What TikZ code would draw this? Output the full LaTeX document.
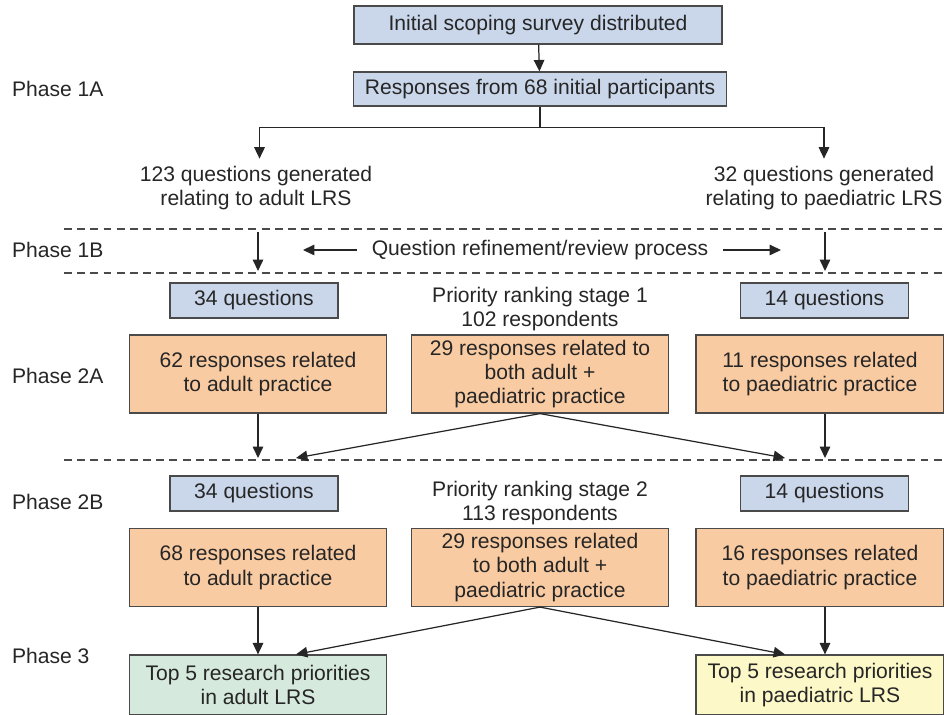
\documentclass[tikz,border=0pt]{standalone}
\usepackage{fontspec}
\setmainfont{Liberation Sans}
\usetikzlibrary{arrows.meta}
\definecolor{qblue}{HTML}{CAD6EA}
\definecolor{rorange}{HTML}{F9CBA2}
\definecolor{tgreen}{HTML}{D6E9DD}
\definecolor{tyellow}{HTML}{FCF8C8}
\definecolor{edge}{HTML}{4A4A4A}
\definecolor{ink}{HTML}{262626}
\tikzset{
  box/.style={draw=edge, line width=0.7pt, align=center, inner sep=1pt, text=ink},
  qbox/.style={box, fill=qblue},
  rbox/.style={box, fill=rorange, minimum height=1.56cm},
  lbl/.style={align=center, text=ink, inner sep=1pt},
  arr/.style={-{Triangle[width=6pt,length=6.5pt]}, line width=0.7pt, draw=ink},
  sep/.style={draw=edge, line width=0.6pt, dash pattern=on 4.5pt off 3pt}
}
\begin{document}
\begin{tikzpicture}[x=0.02cm, y=-0.02cm,
    every node/.append style={font=\fontsize{12}{13.8}\selectfont}]
    \useasboundingbox (0,0) rectangle (944,715);
    % phase labels
    \node[lbl, anchor=west] (ph1a) at (10,89) {Phase 1A};
    \node[lbl, anchor=west] (ph1b) at (10,250) {Phase 1B};
    \node[lbl, anchor=west] (ph2a) at (10,376) {Phase 2A};
    \node[lbl, anchor=west] (ph2b) at (10,502) {Phase 2B};
    \node[lbl, anchor=west] (ph3) at (10,656) {Phase 3};
    % separators
    \draw[sep] (64,229) -- (944,229);
    \draw[sep] (64,273) -- (944,273);
    \draw[sep] (64,460) -- (944,460);
    % phase 1A
    \node[qbox, minimum width=7.36cm, minimum height=0.76cm] (survey) at (538,25) {Initial scoping survey distributed};
    \node[qbox, minimum width=7.46cm, minimum height=0.68cm] (initial) at (540,89) {Responses from 68 initial participants};
    \node[lbl] (genA) at (256,188) {123 questions generated\\relating to adult LRS};
    \node[lbl] (genP) at (824,188) {32 questions generated\\relating to paediatric LRS};
    \draw[arr] (survey) -- (initial);
    \draw[arr] (initial.south) -- ++(0,21) -| ([xshift=2pt,yshift=3pt]genA.north);
    \draw[arr] (initial.south) -- ++(0,21) -| ([yshift=3pt]genP.north);
    % phase 1B
    \node[lbl] (refine) at (540,250) {Question refinement/review process};
    \coordinate (refL) at (303,250);
    \coordinate (refR) at (781,250);
    \draw[arr, shorten <=0.26cm] (refine.west) -- (refL);
    \draw[arr, shorten <=0.26cm] (refine.east) -- (refR);
    \coordinate (a1top) at (258,232);
    \coordinate (a1bot) at (258,271);
    \coordinate (p1top) at (825,232);
    \coordinate (p1bot) at (825,271);
    \draw[arr] (a1top) -- (a1bot);
    \draw[arr] (p1top) -- (p1bot);
    % phase 2A
    \node[qbox, minimum width=3.36cm, minimum height=0.7cm] (qA1) at (254,300.5) {34 questions};
    \node[qbox, minimum width=3.36cm, minimum height=0.7cm] (qP1) at (824.5,300.5) {14 questions};
    \node[lbl] (rank1) at (540,309) {Priority ranking stage 1\\102 respondents};
    \node[rbox, minimum width=5.14cm] (resA1) at (258,374) {62 responses related\\to adult practice};
    \node[rbox, minimum width=5.14cm] (resB1) at (540,374) {29 responses related to\\both adult +\\paediatric practice};
    \node[rbox, minimum width=4.96cm] (resP1) at (820,374) {11 responses related\\to paediatric practice};
    \coordinate (inA) at (258,458);
    \coordinate (inAb) at (296,458);
    \coordinate (inPb) at (785,458);
    \coordinate (inP) at (825,458);
    \draw[arr] (resA1.south) -- (inA);
    \draw[arr] (resB1.south) -- (inAb);
    \draw[arr] (resB1.south) -- (inPb);
    \draw[arr] (resP1.south -| inP) -- (inP);
    % phase 2B
    \node[qbox, minimum width=3.36cm, minimum height=0.7cm] (qA2) at (254,493.5) {34 questions};
    \node[qbox, minimum width=3.36cm, minimum height=0.7cm] (qP2) at (824.5,493.5) {14 questions};
    \node[lbl] (rank2) at (540,503) {Priority ranking stage 2\\113 respondents};
    \node[rbox, minimum width=5.14cm] (resA2) at (258,567.5) {68 responses related\\to adult practice};
    \node[rbox, minimum width=5.14cm] (resB2) at (540,567.5) {29 responses related\\to both adult +\\paediatric practice};
    \node[rbox, minimum width=4.96cm] (resP2) at (820,567.5) {16 responses related\\to paediatric practice};
    % phase 3
    \node[box, fill=tgreen, minimum width=5.14cm, minimum height=1.2cm] (topA) at (258,685) {Top 5 research priorities\\in adult LRS};
    \node[box, fill=tyellow, minimum width=4.96cm, minimum height=1.2cm] (topP) at (820,685) {Top 5 research priorities\\in paediatric LRS};
    \draw[arr] (resA2) -- (topA);
    \draw[arr] (resB2.south) -- ([xshift=0.76cm]topA.north);
    \draw[arr] (resB2.south) -- ([xshift=-0.7cm]topP.north);
    \draw[arr] (resP2.south -| inP) -- (topP.north -| inP);
\end{tikzpicture}
\end{document}
